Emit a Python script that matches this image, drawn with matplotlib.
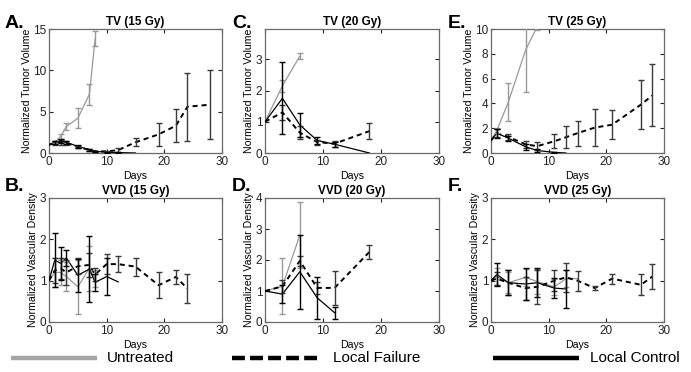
import numpy as np
import matplotlib
matplotlib.use("Agg")
import matplotlib.pyplot as plt
from matplotlib.lines import Line2D

plt.rcParams['font.family'] = ['Liberation Sans', 'DejaVu Sans']

# ---------------- DATA ----------------
# TV 15 Gy
tv15_days_u = [0, 1, 2, 3, 5, 7, 8]
tv15_u = [1.0, 1.3, 2.0, 3.2, 4.2, 7.1, 13.8]
tv15_u_err = [0, 0.15, 0.3, 0.4, 1.2, 1.25, 0.9]
tv15_days_lf = [0, 1, 2, 3, 5, 7, 8, 10, 12, 15, 19, 22, 24, 28]
tv15_lf = [1.0, 1.2, 1.3, 1.2, 0.7, 0.4, 0.2, 0.2, 0.35, 1.3, 2.25, 3.3, 5.6, 5.85]
tv15_lf_err = [0, 0.2, 0.3, 0.2, 0.15, 0.1, 0.1, 0.1, 0.25, 0.5, 1.35, 2.0, 4.1, 4.2]
tv15_days_lc = [0, 1, 2, 3, 5, 7, 8, 10, 12, 15]
tv15_lc = [1.0, 1.3, 1.4, 1.3, 0.8, 0.4, 0.2, 0.1, 0.05, 0.0]
tv15_lc_err = [0, 0.2, 0.25, 0.2, 0.15, 0.1, 0.1, 0.05, 0.05, 0]

# TV 20 Gy
tv20_days_u = [0, 3, 6]
tv20_u = [1.0, 2.15, 3.1]
tv20_u_err = [0, 0.2, 0.1]
tv20_days_lf = [0, 3, 6, 9, 12, 18]
tv20_lf = [1.0, 1.3, 0.65, 0.35, 0.3, 0.7]
tv20_lf_err = [0, 0.25, 0.2, 0.08, 0.1, 0.25]
tv20_days_lc = [0, 3, 6, 9, 12, 18]
tv20_lc = [1.0, 1.75, 0.9, 0.4, 0.28, 0.0]
tv20_lc_err = [0, 1.15, 0.38, 0.1, 0.08, 0]

# TV 25 Gy
tv25_days_u = [0, 1, 3, 6, 8]
tv25_u = [1.0, 1.8, 4.1, 8.3, 10.2]
tv25_u_err = [0, 0.2, 1.55, 3.4, 0.3]
tv25_days_lf = [0, 1, 3, 6, 8, 11, 13, 15, 18, 21, 26, 28]
tv25_lf = [1.0, 1.6, 1.3, 0.7, 0.55, 0.95, 1.27, 1.6, 2.05, 2.28, 3.9, 4.65]
tv25_lf_err = [0, 0.3, 0.25, 0.3, 0.3, 0.55, 0.88, 1.0, 1.5, 1.18, 2.0, 2.5]
tv25_days_lc = [0, 1, 3, 6, 8, 11, 13]
tv25_lc = [1.0, 1.6, 1.2, 0.5, 0.2, 0.05, 0.0]
tv25_lc_err = [0, 0.35, 0.2, 0.25, 0.1, 0.03, 0]

# VVD 15 Gy
vvd15_days_u = [0, 1, 2, 3, 5, 7, 8]
vvd15_u = [1.0, 1.2, 1.2, 1.1, 0.85, 1.3, 1.05]
vvd15_u_err = [0, 0.35, 0.3, 0.35, 0.65, 0.55, 0.2]
vvd15_days_lf = [0, 1, 2, 3, 5, 7, 8, 10, 12, 15, 19, 22, 24]
vvd15_lf = [1.0, 1.25, 1.3, 1.2, 1.35, 1.38, 1.15, 1.4, 1.4, 1.34, 0.89, 1.09, 0.81]
vvd15_lf_err = [0, 0.3, 0.25, 0.3, 0.2, 0.3, 0.15, 0.25, 0.2, 0.22, 0.32, 0.18, 0.36]
vvd15_days_lc = [0, 1, 2, 3, 5, 7, 8, 10, 12]
vvd15_lc = [1.0, 1.5, 1.42, 1.55, 1.13, 1.28, 0.96, 1.1, 0.97]
vvd15_lc_err = [0, 0.65, 0.4, 0.2, 0.4, 0.8, 0.2, 0.45, 0]

# VVD 20 Gy
vvd20_days_u = [0, 3, 6]
vvd20_u = [1.0, 1.15, 2.8]
vvd20_u_err = [0, 0.9, 1.07]
vvd20_days_lf = [0, 3, 6, 9, 12, 18]
vvd20_lf = [1.0, 1.15, 1.97, 1.1, 1.1, 2.26]
vvd20_lf_err = [0, 0.22, 0.15, 0.2, 0.55, 0.22]
vvd20_days_lc = [0, 3, 6, 9, 12]
vvd20_lc = [1.0, 0.9, 1.62, 0.78, 0.3]
vvd20_lc_err = [0, 0.28, 1.19, 0.67, 0.2]

# VVD 25 Gy
vvd25_days_u = [0, 1, 3, 6, 8, 11, 13, 15]
vvd25_u = [1.0, 1.1, 0.95, 1.08, 0.98, 0.85, 1.05, 1.05]
vvd25_u_err = [0, 0.2, 0.25, 0.2, 0.3, 0.2, 0.2, 0]
vvd25_days_lf = [0, 1, 3, 6, 8, 11, 13, 15, 18, 21, 26, 28]
vvd25_lf = [1.0, 1.05, 0.95, 0.82, 0.85, 1.0, 1.08, 1.0, 0.82, 1.05, 0.9, 1.1]
vvd25_lf_err = [0, 0.15, 0.3, 0.28, 0.42, 0.25, 0.35, 0.24, 0.05, 0.12, 0.25, 0.3]
vvd25_days_lc = [0, 1, 3, 6, 8, 11, 13]
vvd25_lc = [1.0, 1.15, 0.95, 0.92, 0.95, 0.82, 0.8]
vvd25_lc_err = [0, 0.28, 0.3, 0.38, 0.35, 0.25, 0.45]

legend_labels = ["Untreated", "Local Failure", "Local Control"]
x_ticks = [0, 10, 20, 30]

# ---------------- STYLE ----------------
GRAY = '#999999'
LF_ERR = '#3a3a3a'
DASH = (0, (2.6, 2.0))
SPINE = '#6a6a6a'

W, H = 691, 372
fig = plt.figure(figsize=(W / 100, H / 100), dpi=100)


def px_axes(l, t, r, b):
    return fig.add_axes([l / W, 1 - b / H, (r - l) / W, (b - t) / H])


def draw_series(ax, d, v, e, color, ecolor, ls, lw):
    d = np.asarray(d, float)
    v = np.asarray(v, float)
    e = np.asarray(e, float)
    ax.plot(d, v, color=color, linestyle=ls, linewidth=lw, zorder=3)
    m = e > 0
    ax.errorbar(d[m], v[m], yerr=e[m], fmt='none', ecolor=ecolor,
                elinewidth=1.0, capsize=2.2, capthick=1.0, zorder=4)


def panel(ax, title, ylabel, ylim, yticks, u, lf, lc):
    draw_series(ax, *u, GRAY, GRAY, '-', 0.9)
    draw_series(ax, *lf, 'black', LF_ERR, DASH, 1.4)
    draw_series(ax, *lc, 'black', 'black', '-', 0.9)
    ax.set_xlim(0, 30)
    ax.set_ylim(*ylim)
    ax.set_xticks(x_ticks)
    ax.set_yticks(yticks)
    ax.tick_params(direction='in', length=3, width=0.8, top=True, right=True,
                   labelsize=8.5, colors='#222222', pad=2)
    for s in ax.spines.values():
        s.set_color(SPINE)
        s.set_linewidth(0.9)
    ax.set_title(title, fontsize=8.5, fontweight='bold', pad=3)
    ax.set_ylabel(ylabel, fontsize=7.6, labelpad=1)
    ax.set_xlabel("Days", fontsize=7.6, labelpad=2)


cols = [(49, 222), (265, 439), (491, 664)]
top_row = (29, 153)
bot_row = (198, 322)

axA = px_axes(cols[0][0], top_row[0], cols[0][1], top_row[1])
axC = px_axes(cols[1][0], top_row[0], cols[1][1], top_row[1])
axE = px_axes(cols[2][0], top_row[0], cols[2][1], top_row[1])
axB = px_axes(cols[0][0], bot_row[0], cols[0][1], bot_row[1])
axD = px_axes(cols[1][0], bot_row[0], cols[1][1], bot_row[1])
axF = px_axes(cols[2][0], bot_row[0], cols[2][1], bot_row[1])

TVL = "Normalized Tumor Volume"
VDL = "Normalized Vascular Density"

panel(axA, "TV (15 Gy)", TVL, (0, 15), [0, 5, 10, 15],
      (tv15_days_u, tv15_u, tv15_u_err),
      (tv15_days_lf, tv15_lf, tv15_lf_err),
      (tv15_days_lc, tv15_lc, tv15_lc_err))
panel(axC, "TV (20 Gy)", TVL, (0, 3.97), [0, 1, 2, 3],
      (tv20_days_u, tv20_u, tv20_u_err),
      (tv20_days_lf, tv20_lf, tv20_lf_err),
      (tv20_days_lc, tv20_lc, tv20_lc_err))
panel(axE, "TV (25 Gy)", TVL, (0, 10), [0, 2, 4, 6, 8, 10],
      (tv25_days_u, tv25_u, tv25_u_err),
      (tv25_days_lf, tv25_lf, tv25_lf_err),
      (tv25_days_lc, tv25_lc, tv25_lc_err))
panel(axB, "VVD (15 Gy)", VDL, (0, 3), [0, 1, 2, 3],
      (vvd15_days_u, vvd15_u, vvd15_u_err),
      (vvd15_days_lf, vvd15_lf, vvd15_lf_err),
      (vvd15_days_lc, vvd15_lc, vvd15_lc_err))
panel(axD, "VVD (20 Gy)", VDL, (0, 4), [0, 1, 2, 3, 4],
      (vvd20_days_u, vvd20_u, vvd20_u_err),
      (vvd20_days_lf, vvd20_lf, vvd20_lf_err),
      (vvd20_days_lc, vvd20_lc, vvd20_lc_err))
panel(axF, "VVD (25 Gy)", VDL, (0, 3), [0, 1, 2, 3],
      (vvd25_days_u, vvd25_u, vvd25_u_err),
      (vvd25_days_lf, vvd25_lf, vvd25_lf_err),
      (vvd25_days_lc, vvd25_lc, vvd25_lc_err))

# panel letters
letters = [("A.", 5, 28), ("C.", 232, 28), ("E.", 448, 28),
           ("B.", 5, 191), ("D.", 232, 191), ("F.", 448, 191)]
for txt, x, y in letters:
    fig.text(x / W, 1 - y / H, txt, fontsize=14, fontweight='bold',
             ha='left', va='baseline')

# legend row
lax = fig.add_axes([0, 0, 1, 1 - 345 / H])
lax.set_xlim(0, W)
lax.set_ylim(H - 345, 0)
lax.axis('off')
ly = 358 - 345
lax.add_line(Line2D([11, 97], [ly, ly], color='#a6a6a6', linewidth=3.2, solid_capstyle='butt'))
lax.add_line(Line2D([232, 317], [ly, ly], color='black', linewidth=3.2,
                    linestyle=(0, (2.9, 1.16)), dash_capstyle='butt'))
lax.add_line(Line2D([493, 579], [ly, ly], color='black', linewidth=3.2, solid_capstyle='butt'))
for txt, x in zip(legend_labels, [107, 333, 590]):
    lax.text(x, ly, txt, fontsize=11, ha='left', va='center')

fig.savefig("out.png", dpi=100)
